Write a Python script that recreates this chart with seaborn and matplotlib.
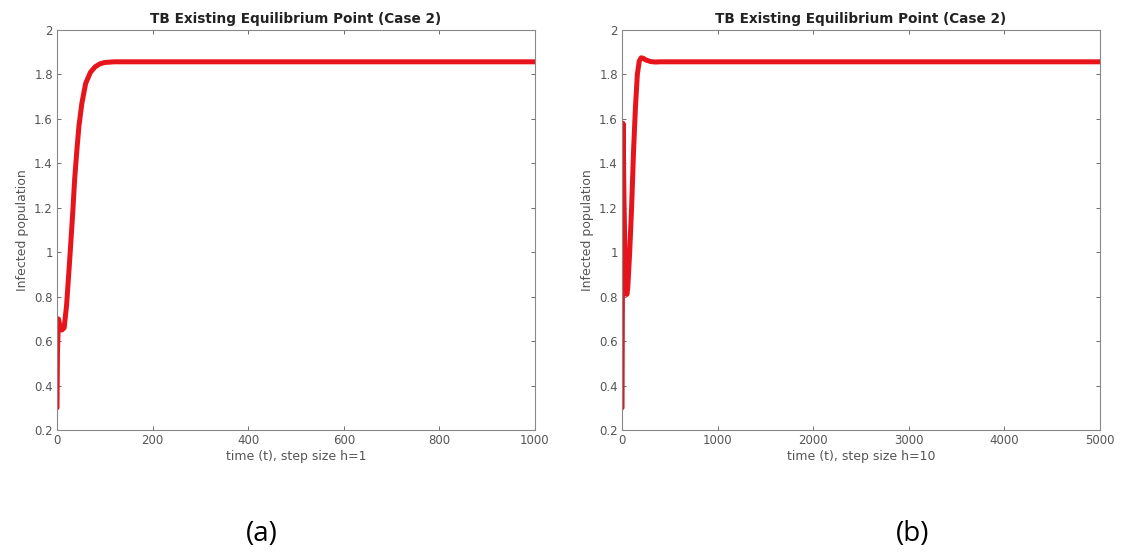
import numpy as np
import pandas as pd
import matplotlib
matplotlib.use("Agg")
import matplotlib.pyplot as plt
import seaborn as sns

# panel (a): step size h=1
t_a = [0, 1, 3, 6, 10, 15, 20, 27, 33, 37, 42, 46, 52, 60, 70, 80, 90, 100, 120, 150, 1000]
i_a = [0.3, 0.55, 0.7, 0.67, 0.65, 0.66, 0.76, 0.98, 1.18, 1.33, 1.47, 1.57, 1.67, 1.76, 1.81,
       1.835, 1.848, 1.854, 1.857, 1.857, 1.857]

# panel (b): step size h=10
t_b = [0, 10, 20, 30, 40, 50, 60, 80, 100, 120, 140, 160, 180, 200, 220, 250, 300, 350,
       400, 500, 5000]
i_b = [0.3, 1.58, 1.25, 1.0, 0.85, 0.81, 0.84, 1.0, 1.2, 1.45, 1.65, 1.8, 1.86, 1.875,
       1.873, 1.865, 1.858, 1.856, 1.857, 1.857, 1.857]

y_ticks = [0.2, 0.4, 0.6, 0.8, 1.0, 1.2, 1.4, 1.6, 1.8, 2.0]
y_labels = ["0.2", "0.4", "0.6", "0.8", "1", "1.2", "1.4", "1.6", "1.8", "2"]

panels = [
    (t_a, i_a, [0, 200, 400, 600, 800, 1000], "time (t), step size h=1", "(a)"),
    (t_b, i_b, [0, 1000, 2000, 3000, 4000, 5000], "time (t), step size h=10", "(b)"),
]

sns.set_style("white")
plt.rcParams["font.family"] = ["DejaVu Sans"]

fig = plt.figure(figsize=(11.22, 5.54), dpi=100)
lefts = [0.0508, 0.5544]
cap_x = [0.2335, 0.813]
gray = "#555555"

for left, cx, (t, y, xt, xlab, cap) in zip(lefts, cap_x, panels):
    ax = fig.add_axes([left, 0.2238, 0.426, 0.722])
    df = pd.DataFrame({"t": t, "I": y})
    sns.lineplot(data=df, x="t", y="I", ax=ax, color="#e8141c", linewidth=3.6,
                 estimator=None, sort=False)
    ax.set_xlim(xt[0], xt[-1])
    ax.set_ylim(0.2, 2.0)
    ax.set_xticks(xt)
    ax.set_xticklabels([str(v) for v in xt])
    ax.set_yticks(y_ticks)
    ax.set_yticklabels(y_labels)
    ax.tick_params(direction="in", length=3, width=0.6, colors=gray, labelsize=8.5,
                   top=True, right=True, bottom=True, left=True, pad=3)
    for s in ax.spines.values():
        s.set_color("#888888")
        s.set_linewidth(0.8)
    ax.set_xlabel(xlab, fontsize=9, color=gray, labelpad=2)
    ax.set_ylabel("Infected population", fontsize=9, color=gray, labelpad=4)
    ax.set_title("TB Existing Equilibrium Point (Case 2)", fontsize=9.8,
                 fontweight="bold", color="#222222", pad=5)
    fig.text(cx, 0.036, cap, ha="center", va="center",
             fontsize=20, family=["Open Sans", "DejaVu Sans"], color="black")

fig.savefig("out.png", dpi=100)
